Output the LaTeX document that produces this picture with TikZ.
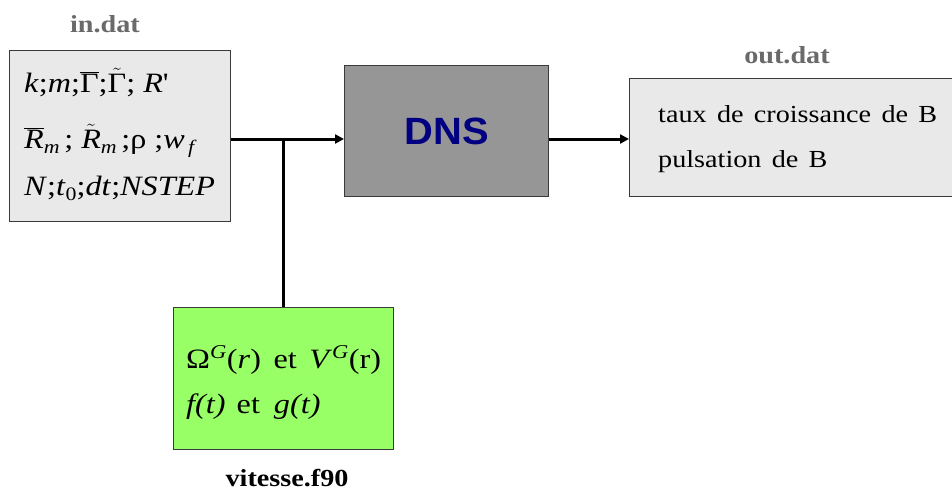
\documentclass[tikz,border=0pt]{standalone}
\usepackage{fontspec}
\setmainfont{Liberation Serif}[FakeStretch=1.15]
\newfontfamily\dnsfont{Liberation Sans}[FakeStretch=1.05]
\usetikzlibrary{arrows.meta}
\definecolor{boxgray}{HTML}{E9E9E9}
\definecolor{dnsgray}{HTML}{969696}
\definecolor{labgray}{HTML}{6A6A6A}
\definecolor{dnsblue}{HTML}{000080}
\definecolor{vgreen}{HTML}{99FF66}
\definecolor{edgegray}{HTML}{3A3A3A}
\newcommand\ovl[1]{$\overline{\hbox{#1}}$}
\newcommand\wtl[1]{$\tilde{\hbox{#1}}$}
\newcommand\ws{\hspace{0.42em}}
\newcommand\lsub[1]{\raisebox{-0.4ex}{\fontsize{19}{20}\selectfont\itshape #1}}
\begin{document}
\begin{tikzpicture}[x=1pt,y=-1pt,
  panel/.style={draw=edgegray, line width=1.2pt, anchor=north west, inner sep=0pt},
  txt/.style={anchor=base west, inner sep=0pt},
  lab/.style={anchor=base, inner sep=0pt, text=labgray, font=\fontsize{24.5}{28}\selectfont\bfseries},
  conn/.style={line width=3pt, -{Triangle[length=9pt,width=9pt]}},
  plain/.style={line width=3pt}]
\useasboundingbox (0,0) rectangle (952,490);
\clip (0,0) rectangle (952,490);
% boxes
\node[panel, fill=boxgray, minimum width=221, minimum height=171] (in) at (9,50) {};
\node[panel, fill=dnsgray, minimum width=204, minimum height=131,
      font=\dnsfont\fontsize{38}{44}\selectfont\bfseries, text=dnsblue] (dns) at (344,65) {DNS};
\node[panel, fill=boxgray, minimum width=340, minimum height=118] (out) at (629,78) {};
\node[panel, fill=vgreen, minimum width=220, minimum height=142] (vit) at (173,307) {};
% labels
\node[lab] (inlab) at (105,32) {in.dat};
\node[lab] (outlab) at (787,63) {out.dat};
\node[lab, text=black] (vitlab) at (287,486) {vitesse.f90};
% input text
\begin{scope}[every node/.style={txt, font=\fontsize{28}{30}\selectfont}]
\node (in1) at (24,92) {\textit{k};\textit{m};\ovl{Γ};\wtl{Γ}; \textit{R}\textquotesingle};
\node (in2) at (24,148) {\ovl{\textit{R}}\lsub{m}\,; \wtl{\textit{R}}\lsub{m}\,;ρ ;\textit{w}\lsub{\,f}};
\node (in3) at (24,195) {\textit{N};\textit{t}\lsub{\upshape 0};\textit{dt};\textit{NSTEP}};
\end{scope}
% output text
\begin{scope}[every node/.style={txt, font=\fontsize{24.5}{28}\selectfont}]
\node (out1) at (658,122) {taux\ws de\ws croissance\ws de\ws B};
\node (out2) at (658,167) {pulsation\ws de\ws B};
\end{scope}
% green text
\begin{scope}[every node/.style={txt, font=\fontsize{28}{32}\selectfont}]
\node (v1) at (186,368) {Ω\textsuperscript{\textit{G}}(\textit{r})\hspace{0.45em}et\hspace{0.45em}\textit{V}\textsuperscript{\textit{G}}(r)};
\node (v2) at (186,413) {\textit{f(t)}\hspace{0.4em}et\hspace{0.5em}\textit{g(t)}};
\end{scope}
% connectors
\coordinate (lev) at (0,139);
\draw[conn] (in.east |- lev) -- (dns.west |- lev);
\draw[conn] (dns.east |- lev) -- (out.west |- lev);
\draw[plain] (vit.north) -- (vit.north |- lev);
\end{tikzpicture}
\end{document}
